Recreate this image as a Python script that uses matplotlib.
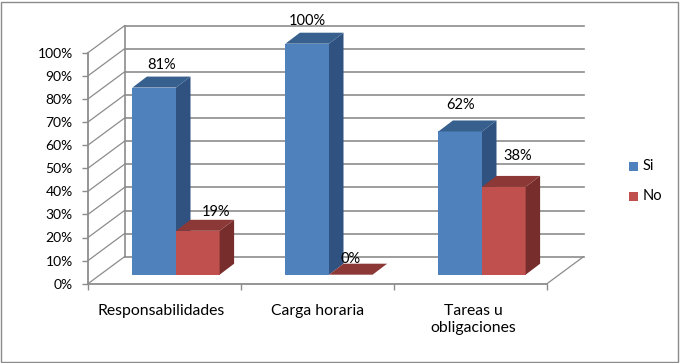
import matplotlib
matplotlib.use('Agg')
import matplotlib.pyplot as plt
from matplotlib.patches import Polygon, Rectangle
from matplotlib.transforms import Affine2D

plt.rcParams['font.family'] = ['Lato', 'DejaVu Sans']

categorias = ['Responsabilidades', 'Carga horaria', 'Tareas u\nobligaciones']
si = [81, 100, 62]
no = [19, 0, 38]
marcas_y = list(range(0, 101, 10))

# colores: frente, lateral, arriba
azul = ('#4F81BD', '#2F5280', '#37608F')
rojo = ('#C0504D', '#772D2B', '#8C3836')
gris = '#8C8C8C'

# profundidad en pixeles
FONDO = (36.5, 27)
BARRA_INI = (11.5, 9)
BARRA_PROF = (14.5, 11)
ANCHO = 0.285

fig = plt.figure(figsize=(6.8, 3.63), dpi=100)
ax = fig.add_axes([88 / 680, (363 - 283.7) / 363, 459 / 680, 231 / 363])
ax.set_xlim(0, 3)
ax.set_ylim(0, 100)
ax.patch.set_visible(False)


def desplazado(dx, dy):
    return ax.transData + Affine2D().translate(dx, dy)


# paredes y piso
fondo = desplazado(*FONDO)
for v in marcas_y:
    ax.plot([0, 3], [v, v], color=gris, lw=1.2, transform=fondo, clip_on=False, zorder=1)
    x0, y0 = ax.transData.transform((0, v))
    ax.plot([x0, x0 + FONDO[0]], [y0, y0 + FONDO[1]], color=gris, lw=0.9,
            transform=None, clip_on=False, zorder=1)
x0, y0 = ax.transData.transform((3, 0))
ax.plot([x0, x0 + FONDO[0]], [y0, y0 + FONDO[1]], color=gris, lw=0.9,
        transform=None, clip_on=False, zorder=1)
ax.plot([0, 0], [0, 100], color=gris, lw=1.2, transform=fondo, clip_on=False, zorder=1)


def barra(x, valor, colores, z):
    frente = desplazado(*BARRA_INI)
    ax.bar(x, valor, ANCHO, align='edge', color=colores[0], transform=frente,
           clip_on=False, zorder=z, linewidth=0)
    xa, ya = frente.transform((x, valor))
    xb, yb = frente.transform((x + ANCHO, valor))
    xc, yc = frente.transform((x + ANCHO, 0))
    dx, dy = BARRA_PROF
    ax.add_patch(Polygon([(xb, yb), (xb + dx, yb + dy), (xc + dx, yc + dy), (xc, yc)],
                         closed=True, color=colores[1], lw=0, transform=None,
                         clip_on=False, zorder=z))
    ax.add_patch(Polygon([(xa, ya), (xa + dx, ya + dy), (xb + dx, yb + dy), (xb, yb)],
                         closed=True, color=colores[2], lw=0, transform=None,
                         clip_on=False, zorder=z))


for i in range(len(categorias)):
    centro = i + 0.5
    barra(centro - ANCHO, si[i], azul, 3 + i)
    barra(centro, no[i], rojo, 3.5 + i)

# etiquetas de datos, desplazamiento a mano desde la esquina del frente
desp_si = [(7, 23), (0, 23), (0, 26)]
desp_no = [(18, 19), (0, 16), (14, 31)]
for i in range(len(categorias)):
    centro = i + 0.5
    for x, v, d in ((centro - ANCHO / 2, si[i], desp_si[i]), (centro + ANCHO / 2, no[i], desp_no[i])):
        xp, yp = desplazado(*BARRA_INI).transform((x, v))
        ax.text(xp + d[0], yp + d[1], f'{v}%', transform=None, ha='center', va='center',
                fontsize=10.5, color='black', zorder=10, clip_on=False)

# ejes
for lado in ['top', 'right']:
    ax.spines[lado].set_visible(False)
for lado in ['left', 'bottom']:
    ax.spines[lado].set_color(gris)
    ax.spines[lado].set_linewidth(1.3)
ax.set_yticks(marcas_y)
ax.set_yticklabels([f'{v}%' for v in marcas_y], fontsize=10, color='black')
ax.set_xticks([0, 1, 2, 3])
ax.set_xticklabels([])
ax.tick_params(axis='y', length=4, width=1, color=gris, pad=7)
ax.tick_params(axis='x', length=4, width=1, color=gris)

desp_cat = [-2.5, -0.2, 2]
for i, cat in enumerate(categorias):
    ax.annotate(cat, (i + 0.5, 0), xytext=(desp_cat[i], -14.5), textcoords='offset points',
                ha='center', va='top', fontsize=11.3, color='black', linespacing=1.25,
                annotation_clip=False)

# leyenda
for y, texto, c in ((166, 'Si', azul[0]), (196, 'No', rojo[0])):
    fig.patches.append(Rectangle((629 / 680, 1 - (y + 4.5) / 363), 9 / 680, 9 / 363,
                                 transform=fig.transFigure, color=c, lw=0))
    fig.text(643 / 680, 1 - y / 363, texto, ha='left', va='center', fontsize=10.5, color='black')

# marco de la imagen
fig.patches.append(Rectangle((0.5 / 680, 1.5 / 363), 677.5 / 680, 360 / 363, transform=fig.transFigure,
                             fill=False, edgecolor='#8A8A8A', lw=1))

fig.savefig('out.png', dpi=100)
